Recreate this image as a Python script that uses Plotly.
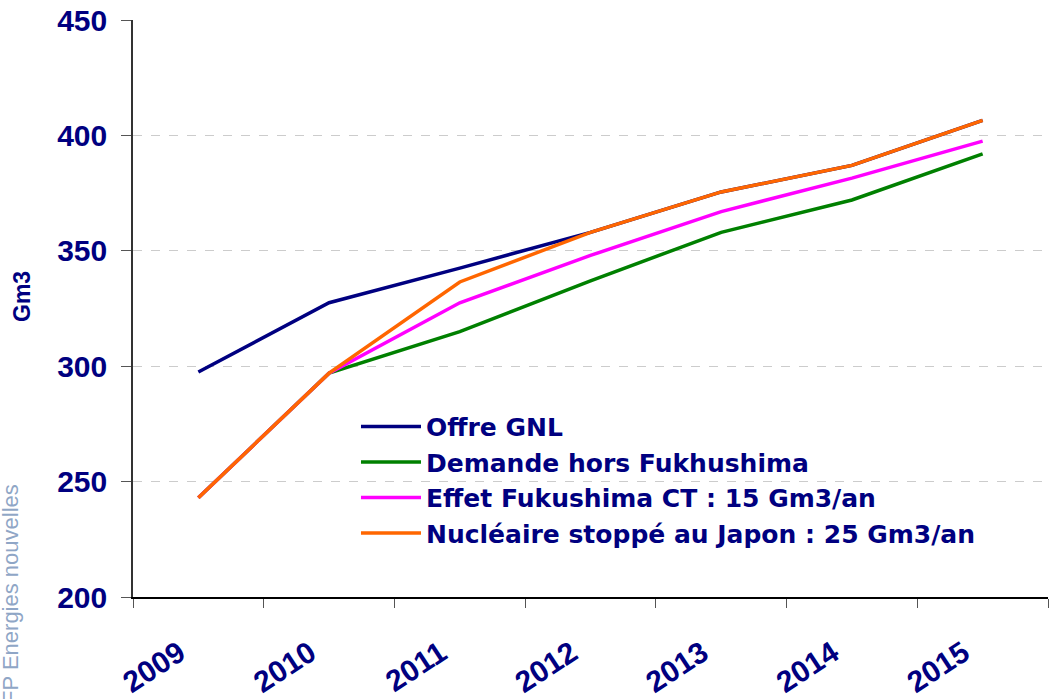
import plotly.graph_objects as go

years = ["2009", "2010", "2011", "2012", "2013", "2014", "2015"]
offre_gnl = [297.5, 327.5, 342.5, 358, 375.5, 387, 406.5]
demande_hors = [243, 297, 315, 337, 358, 372, 392]
effet_ct = [243, 297, 327.5, 348, 367, 381.5, 397.5]
nucleaire_stoppe = [243, 297, 336.5, 358, 375.5, 387, 406.5]

names = ["Offre GNL", "Demande hors Fukhushima",
         "Effet Fukushima CT : 15 Gm3/an",
         "Nucléaire stoppé au Japon : 25 Gm3/an"]
colors = ["#000080", "#008000", "#FF00FF", "#FF6600"]
series = [offre_gnl, demande_hors, effet_ct, nucleaire_stoppe]

NAVY = "#000080"
FONT = "Liberation Sans, Arial"
fig = go.Figure()
for name, col, vals in zip(names, colors, series):
    fig.add_trace(go.Scatter(x=years, y=vals, mode="lines", name=name,
                             line=dict(color=col, width=3.5)))

fig.update_layout(
    width=1058, height=699,
    margin=dict(l=133, r=10, t=20, b=102, autoexpand=False),
    paper_bgcolor="white", plot_bgcolor="white",
    font=dict(family=FONT, color=NAVY),
    showlegend=True,
    legend=dict(x=0.2437, y=0.335, xanchor="left", yanchor="top",
                bgcolor="rgba(0,0,0,0)", itemwidth=60, tracegroupgap=0,
                font=dict(size=25, color=NAVY, family="DejaVu Sans", weight="bold"),
                itemclick=False),
)
fig.update_xaxes(type="category", tickson="boundaries", showgrid=False,
                 automargin=False,
                 showline=True, linecolor="black", linewidth=1.5,
                 ticks="outside", ticklen=9, tickcolor="#555555",
                 tickangle=-33, ticklabelshift=-19, ticklabelstandoff=25,
                 tickfont=dict(size=30, color=NAVY, family=FONT, weight="bold"),
                 range=[-0.5, 6.5], zeroline=False)
fig.update_yaxes(range=[200, 450], tickvals=[200, 250, 300, 350, 400, 450],
                 automargin=False, ticklabeloverflow="allow",
                 showline=True, linecolor="#333333", linewidth=1.5,
                 ticks="outside", ticklen=10, tickcolor="#555555",
                 showgrid=True, gridcolor="#CCCCCC", griddash="dash", gridwidth=1,
                 zeroline=False, ticklabelstandoff=8,
                 tickfont=dict(size=30, color=NAVY, family=FONT, weight="bold"))

fig.add_annotation(text="<b>Gm3</b>", xref="paper", yref="paper",
                   x=-0.1213, y=0.52, textangle=-90, showarrow=False,
                   xanchor="center", yanchor="middle",
                   font=dict(size=23, color=NAVY, family=FONT))
fig.add_annotation(text="IFP Energies nouvelles", xref="paper", yref="paper",
                   x=-0.1344, y=0.0, textangle=-90, showarrow=False,
                   xanchor="center", yanchor="middle",
                   font=dict(size=22, color="#8FA6C6", family=FONT))

# remove the browser's default 8px body margin so the figure sits at the page origin
fig.write_html("out.html", config={"displayModeBar": False},
               post_script="document.body.style.margin='0';")
